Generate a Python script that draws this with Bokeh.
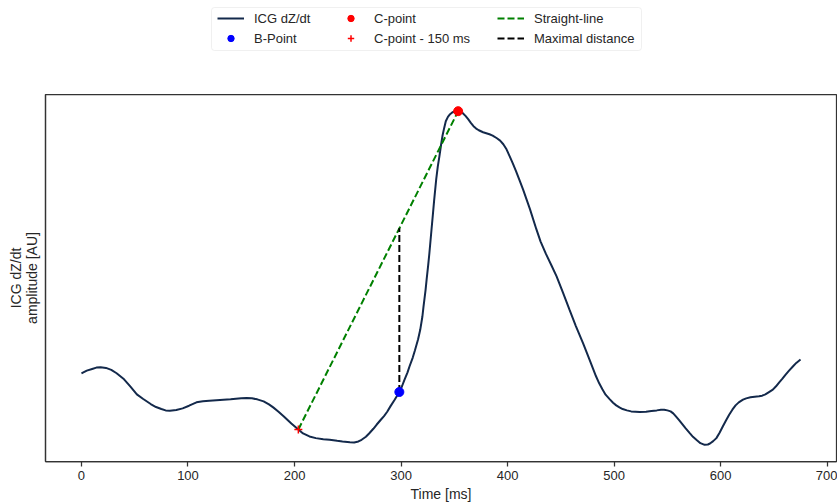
from bokeh.plotting import figure
from bokeh.models import Legend, LegendItem, Range1d, FixedTicker, BoxAnnotation
from bokeh.layouts import column
from bokeh.embed import file_html
from bokeh.resources import INLINE

# ICG dZ/dt signal (time in ms, amplitude in arbitrary units)
time_ms = [0, 5, 10, 14, 18, 23, 28, 33, 40, 46, 52, 58, 65, 70, 75, 79, 83, 89, 95, 101,
           108, 114, 120, 130, 140, 150, 155, 160, 165, 171, 176, 180, 185, 190, 197,
           203.6, 208, 214, 220, 227, 233, 240, 245, 252, 256, 260, 263, 267, 270, 274,
           277, 281, 284, 287, 290, 294, 298.4, 301, 303, 306, 308, 311, 313, 316, 318,
           320, 321, 323, 324, 325.5, 326.5, 328.6, 330, 331, 333, 334.5, 336, 337.5,
           339, 340.5, 342, 344, 346, 348, 350, 353.6, 356, 358, 360.5, 363, 365.5, 368,
           370.5, 373, 377, 380, 383, 386, 390, 393, 396, 399, 402, 405, 408, 411, 414.5,
           421, 427, 431, 436, 441, 446, 452, 458, 464, 471, 477, 483, 486, 489, 492,
           496, 499, 502, 505, 508, 512, 516, 520, 524, 530, 535, 540, 544, 547, 550,
           553, 555.5, 558, 561, 564, 567, 571, 574, 578, 581, 585, 588, 590, 593, 596,
           599, 602, 605, 608, 611, 614, 617, 621, 624, 628, 632, 636, 639, 642, 645,
           649, 652, 655, 658, 661, 664, 668, 671, 675]
icg = [21.6, 22.4, 22.9, 23.3, 23.4, 23.2, 22.6, 21.6, 19.8, 17.6, 15.3, 13.9, 12.4,
       11.5, 10.9, 10.5, 10.4, 10.6, 11.1, 11.9, 12.9, 13.2, 13.4, 13.6, 13.8, 14.1,
       14.2, 14.1, 13.8, 13.2, 12.3, 11.4, 10.1, 8.7, 6.6, 4.8, 3.6, 2.7, 2.2, 1.9, 1.7,
       1.4, 1.2, 1.0, 0.9, 1.2, 1.7, 2.6, 3.6, 5.0, 6.2, 7.7, 8.8, 10.1, 11.7, 13.7,
       16.0, 17.8, 19.5, 21.8, 23.7, 26.3, 28.4, 31.8, 34.6, 38.5, 41.3, 46.5, 49.6,
       54.0, 57.2, 64.6, 69.5, 73.1, 79.6, 83.5, 86.5, 89.8, 92.8, 95.0, 97.0, 98.3,
       99.1, 99.6, 99.9, 100.0, 99.8, 99.4, 98.6, 97.6, 96.5, 95.5, 94.8, 94.3, 93.7,
       93.4, 93.1, 92.7, 91.9, 91.2, 90.1, 88.6, 86.5, 84.3, 82.0, 79.5, 76.6, 70.7,
       64.7, 61.0, 57.3, 54.0, 50.6, 45.7, 40.7, 35.8, 30.5, 25.6, 20.7, 18.6, 16.8,
       15.2, 13.8, 12.8, 12.0, 11.4, 10.9, 10.5, 10.2, 10.1, 10.0, 10.1, 10.3, 10.5,
       10.7, 10.7, 10.5, 10.2, 9.6, 8.7, 7.6, 6.4, 5.2, 3.7, 2.6, 1.5, 0.7, 0.2, 0.3,
       0.6, 1.3, 2.2, 3.8, 5.7, 7.5, 9.2, 10.7, 12.0, 12.9, 13.7, 14.1, 14.4, 14.6,
       14.7, 14.9, 15.3, 15.9, 16.7, 17.7, 18.9, 20.0, 21.2, 22.3, 23.7, 24.7, 25.7]

# characteristic points
b_point_t = [298.4]
b_point_y = [16.0]
c_point_t = [353.6]
c_point_y = [100.0]
c150_t = [203.6]
c150_y = [4.8]
# straight line from C-point - 150 ms to C-point
line_t = [203.6, 353.6]
line_y = [4.8, 100.0]
# maximal distance between straight line and signal
dist_t = [298.4, 298.4]
dist_y = [16.0, 65.0]

x_ticks = [0, 100, 200, 300, 400, 500, 600, 700]

legend_labels = ["ICG dZ/dt", "B-Point", "C-point", "C-point - 150 ms",
                 "Straight-line", "Maximal distance"]

FONT = "Liberation Sans"
LINE_COLOR = "#13294b"
LEFT, RIGHT = 45, 1

# ---------------- main plot ----------------
p = figure(width=837, height=411, output_backend="svg", toolbar_location=None,
           min_border_left=LEFT, min_border_right=RIGHT, min_border_top=1,
           min_border_bottom=43)
xmin, xmax = min(time_ms), max(time_ms)
ymin, ymax = min(icg), max(icg)
xm = 0.05 * (xmax - xmin)
ym = 0.05 * (ymax - ymin)
p.x_range = Range1d(xmin - xm, xmax + xm)
p.y_range = Range1d(ymin - ym, ymax + ym)

p.xgrid.visible = False
p.ygrid.visible = False
p.outline_line_color = "#333333"
p.outline_line_width = 1.25
p.background_fill_color = "white"
p.border_fill_color = "white"

p.xaxis.ticker = FixedTicker(ticks=x_ticks)
p.xaxis.minor_tick_line_color = None
p.xaxis.major_tick_in = 0
p.xaxis.major_tick_out = 5
p.xaxis.major_tick_line_color = "#333333"
p.xaxis.major_tick_line_width = 1.25
p.xaxis.axis_line_color = "#333333"
p.xaxis.axis_line_width = 1.25
p.xaxis.major_label_text_font = FONT
p.xaxis.major_label_text_font_size = "13px"
p.xaxis.major_label_text_color = "#262626"
p.xaxis.major_label_standoff = 4
p.xaxis.axis_label = "Time [ms]"
p.xaxis.axis_label_text_font = FONT
p.xaxis.axis_label_text_font_size = "14px"
p.xaxis.axis_label_text_font_style = "normal"
p.xaxis.axis_label_text_color = "#262626"
p.xaxis.axis_label_standoff = 3

p.yaxis.ticker = FixedTicker(ticks=[])
p.yaxis.minor_tick_line_color = None
p.yaxis.major_tick_line_color = None
p.yaxis.major_label_text_font_size = "0px"
p.yaxis.axis_line_color = "#333333"
p.yaxis.axis_line_width = 1.25
p.yaxis.axis_label = "ICG dZ/dt\namplitude [AU]"
p.yaxis.axis_label_text_font = FONT
p.yaxis.axis_label_text_font_size = "14px"
p.yaxis.axis_label_text_font_style = "normal"
p.yaxis.axis_label_text_color = "#262626"
p.yaxis.axis_label_text_line_height = 1.0
p.yaxis.axis_label_standoff = 6

p.line(time_ms, icg, line_color=LINE_COLOR, line_width=2)
p.line(line_t, line_y, line_color="#008000", line_width=2, line_dash="7 3")
p.line(dist_t, dist_y, line_color="black", line_width=2, line_dash="7 3")
p.scatter(b_point_t, b_point_y, marker="circle", size=9, fill_color="#0000ff",
          line_color="#0000ff")
p.scatter(c_point_t, c_point_y, marker="circle", size=9, fill_color="#ff0000",
          line_color="#ff0000")
p.scatter(c150_t, c150_y, marker="cross", size=8, line_color="#ff0000", line_width=1.5)

# ---------------- legend strip (above the plot) ----------------
# its frame is aligned with the main frame; ranges map 1:1 to page pixels
lg = figure(width=837, height=93, output_backend="svg", toolbar_location=None,
            x_axis_type=None, y_axis_type=None, min_border=0,
            min_border_left=LEFT, min_border_right=RIGHT,
            x_range=Range1d(LEFT, 837 - RIGHT), y_range=Range1d(93, 0))
lg.outline_line_color = None
lg.background_fill_color = "white"
lg.border_fill_color = "white"

# hidden copies of the glyphs, used only as legend swatches
g_icg = lg.line(time_ms, icg, line_color=LINE_COLOR, line_width=2, visible=False)
g_b = lg.scatter(b_point_t, b_point_y, marker="circle", size=10, fill_color="#0000ff",
                 line_color="#0000ff", visible=False)
g_c = lg.scatter(c_point_t, c_point_y, marker="circle", size=10, fill_color="#ff0000",
                 line_color="#ff0000", visible=False)
g_c150 = lg.scatter(c150_t, c150_y, marker="cross", size=9, line_color="#ff0000",
                    line_width=1.5, visible=False)
g_line = lg.line(line_t, line_y, line_color="#008000", line_width=2, line_dash="7 3",
                 visible=False)
g_dist = lg.line(dist_t, dist_y, line_color="black", line_width=2, line_dash="7 3",
                 visible=False)

lg.add_layout(BoxAnnotation(left=211, right=641, top=7, bottom=50,
                            fill_color="white", fill_alpha=1,
                            line_color="#cccccc", line_width=1, border_radius=3,
                            level="underlay"))

groups = [([g_icg, g_b], legend_labels[0:2], 217),
          ([g_c, g_c150], legend_labels[2:4], 337),
          ([g_line, g_dist], legend_labels[4:6], 497)]
for rends, labels, x0 in groups:
    leg = Legend(items=[LegendItem(label=lab, renderers=[r]) for r, lab in zip(rends, labels)],
                 orientation="vertical", location=(x0 - LEFT, 47))
    leg.label_text_font = FONT
    leg.label_text_font_size = "13px"
    leg.label_text_color = "#262626"
    leg.glyph_width = 27
    leg.glyph_height = 16
    leg.label_height = 16
    leg.label_standoff = 10
    leg.spacing = 4
    leg.padding = 0
    leg.margin = 0
    leg.border_line_color = None
    leg.background_fill_alpha = 0
    leg.inactive_fill_alpha = 0
    leg.click_policy = "none"
    lg.add_layout(leg, "center")

layout = column(lg, p, spacing=0)
open("out.html", "w").write(file_html(layout, INLINE))
